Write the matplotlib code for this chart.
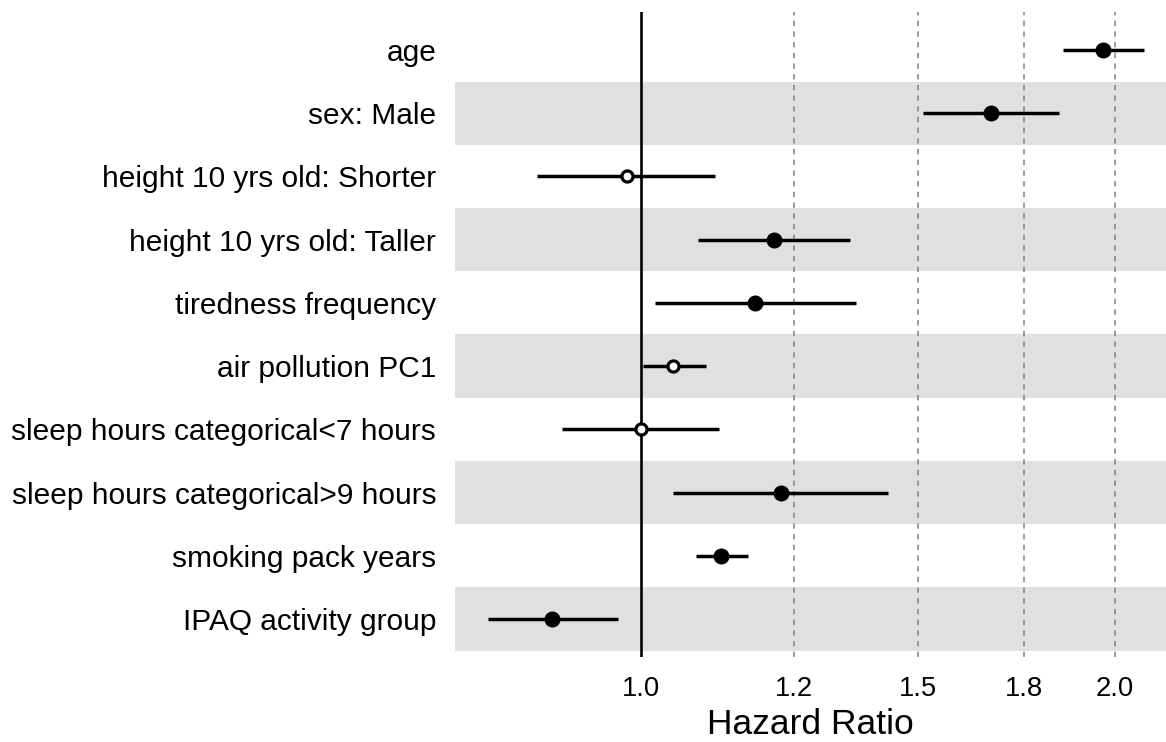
import numpy as np
import matplotlib
matplotlib.use("Agg")
import matplotlib.pyplot as plt
from matplotlib.ticker import FixedLocator, FixedFormatter, NullLocator

plt.rcParams['font.family'] = ['Liberation Sans', 'DejaVu Sans']

# Cox model covariates (top to bottom)
covariates = [
    "age",
    "sex: Male",
    "height 10 yrs old: Shorter",
    "height 10 yrs old: Taller",
    "tiredness frequency",
    "air pollution PC1",
    "sleep hours categorical<7 hours",
    "sleep hours categorical>9 hours",
    "smoking pack years",
    "IPAQ activity group",
]
hazard_ratio = [1.966, 1.667, 0.979, 1.214, 1.181, 1.048, 1.000, 1.226, 1.124, 0.878]
ci_lower = [1.853, 1.510, 0.859, 1.086, 1.020, 1.002, 0.891, 1.048, 1.083, 0.799]
ci_upper = [2.088, 1.843, 1.114, 1.357, 1.369, 1.099, 1.121, 1.435, 1.169, 0.966]
significant = [True, True, False, True, True, False, False, True, True, True]

tick_values = [1.0, 1.25, 1.5, 1.75, 2.0]
tick_labels = [f"{v:.1f}" for v in tick_values]

fig = plt.figure(figsize=(11.66, 7.42), dpi=100)
ax = fig.add_axes([455 / 1166, 1 - 657 / 742, 1 - 455 / 1166, (657 - 12) / 742])

n = len(covariates)
ypos = np.arange(n)

# alternating row shading
for i in ypos:
    if i % 2 == 1:
        ax.axhspan(i - 0.5, i + 0.5, color="#e0e0e0", lw=0, zorder=0)

# reference lines
ax.axvline(1.0, color="black", lw=1.9, zorder=1)
for v in tick_values[1:]:
    ax.axvline(v, color="#808080", lw=1.1, ls=(0, (3.5, 3.5)), zorder=1)

for i in ypos:
    ax.plot([ci_lower[i], ci_upper[i]], [i, i], color="black", lw=2.5,
            solid_capstyle="butt", zorder=2)
    if significant[i]:
        ax.plot(hazard_ratio[i], i, "o", ms=10.5, color="black", zorder=3)
    else:
        ax.plot(hazard_ratio[i], i, "o", ms=8.0, mfc="white", mec="black",
                mew=2.3, zorder=3)

ax.set_xscale("log")
ax.set_xlim(np.exp((455 - 641.3) / 683.4), np.exp((1166 - 641.3) / 683.4))
ax.set_ylim(n - 0.4, -0.6)

ax.xaxis.set_major_locator(FixedLocator(tick_values))
ax.xaxis.set_major_formatter(FixedFormatter(tick_labels))
ax.xaxis.set_minor_locator(NullLocator())
ax.set_yticks(ypos)
ax.set_yticklabels(covariates)

ax.tick_params(axis="x", length=0, pad=13.5, labelsize=19.7)
ax.tick_params(axis="y", length=0, pad=13.5, labelsize=21.5)
for s in ax.spines.values():
    s.set_visible(False)

ax.set_xlabel("Hazard Ratio", fontsize=25.5)
ax.xaxis.label.set_va("baseline")
ax.xaxis.set_label_coords(0.5, -(734 - 657) / 645)

fig.savefig("out.png", dpi=100)
